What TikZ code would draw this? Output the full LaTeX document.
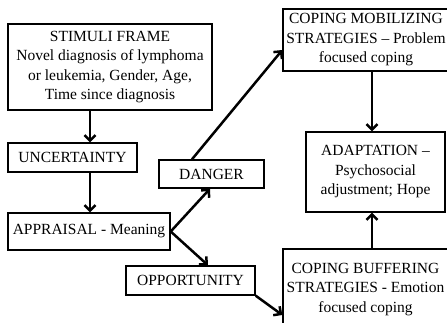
\documentclass[tikz,border=0pt]{standalone}
\usepackage{fontspec}
\setmainfont{Liberation Serif}
\usetikzlibrary{arrows.meta}

\begin{document}
\begin{tikzpicture}[
            x = 1pt, y = -1pt,
            box/.style = {draw, line width = 1.4pt, inner sep = 0pt, align = center,
                          font = \fontsize{15.5}{19.5}\selectfont},
            arr/.style = {line width = 2.5pt, -{Straight Barb[length = 5.5pt, width = 11pt]}}
            ]
            \clip (0,0) rectangle (447,323);
            \node[box, minimum width = 204pt, minimum height = 86pt] (stim) at (110,67)
                {STIMULI FRAME\\ Novel diagnosis of lymphoma\\ or leukemia, Gender, Age,\\ Time since diagnosis};
            \node[box, minimum width = 129pt, minimum height = 29pt] (unc) at (72.5,157.5) {UNCERTAINTY};
            \node[box, minimum width = 162pt, minimum height = 37pt] (app) at (89,231.5) {APPRAISAL - Meaning};
            \node[box, minimum width = 105pt, minimum height = 28pt] (dang) at (211.5,174) {DANGER};
            \node[box, minimum width = 129pt, minimum height = 29pt] (opp) at (190.5,280.5) {OPPORTUNITY};
            \node[box, minimum width = 166pt, minimum height = 62pt] (mob) at (366,40)
                {COPING MOBILIZING\\ STRATEGIES -- Problem\\ focused coping};
            \node[box, minimum width = 139pt, minimum height = 80pt] (adap) at (375.5,172)
                {ADAPTATION --\\ Psychosocial\\ adjustment; Hope};
            \node[box, minimum width = 165pt, minimum height = 81pt] (buf) at (365.5,289.5)
                {COPING BUFFERING\\ STRATEGIES - Emotion\\ focused coping};
            \draw[arr] ([xshift = -20pt]stim.south) -- ([xshift = 17.5pt]unc.north);
            \draw[arr] ([xshift = 17.5pt]unc.south) -- ([xshift = 1pt]app.north);
            \draw[arr] (app.east) -- ([xshift = -1.5pt]dang.south);
            \draw[arr] (app.east) -- ([xshift = 17.5pt]opp.north);
            \draw[arr] ([xshift = -19.5pt]dang.north) -- ([yshift = -10pt]mob.west);
            \draw[arr] (opp.south east) -- ([yshift = -25.5pt]buf.west);
            \draw[arr] ([xshift = 6pt]mob.south) -- ([xshift = -3.5pt]adap.north);
            \draw[arr] ([xshift = 6.5pt]buf.north) -- ([xshift = -3.5pt]adap.south);
          \end{tikzpicture}
\end{document}
